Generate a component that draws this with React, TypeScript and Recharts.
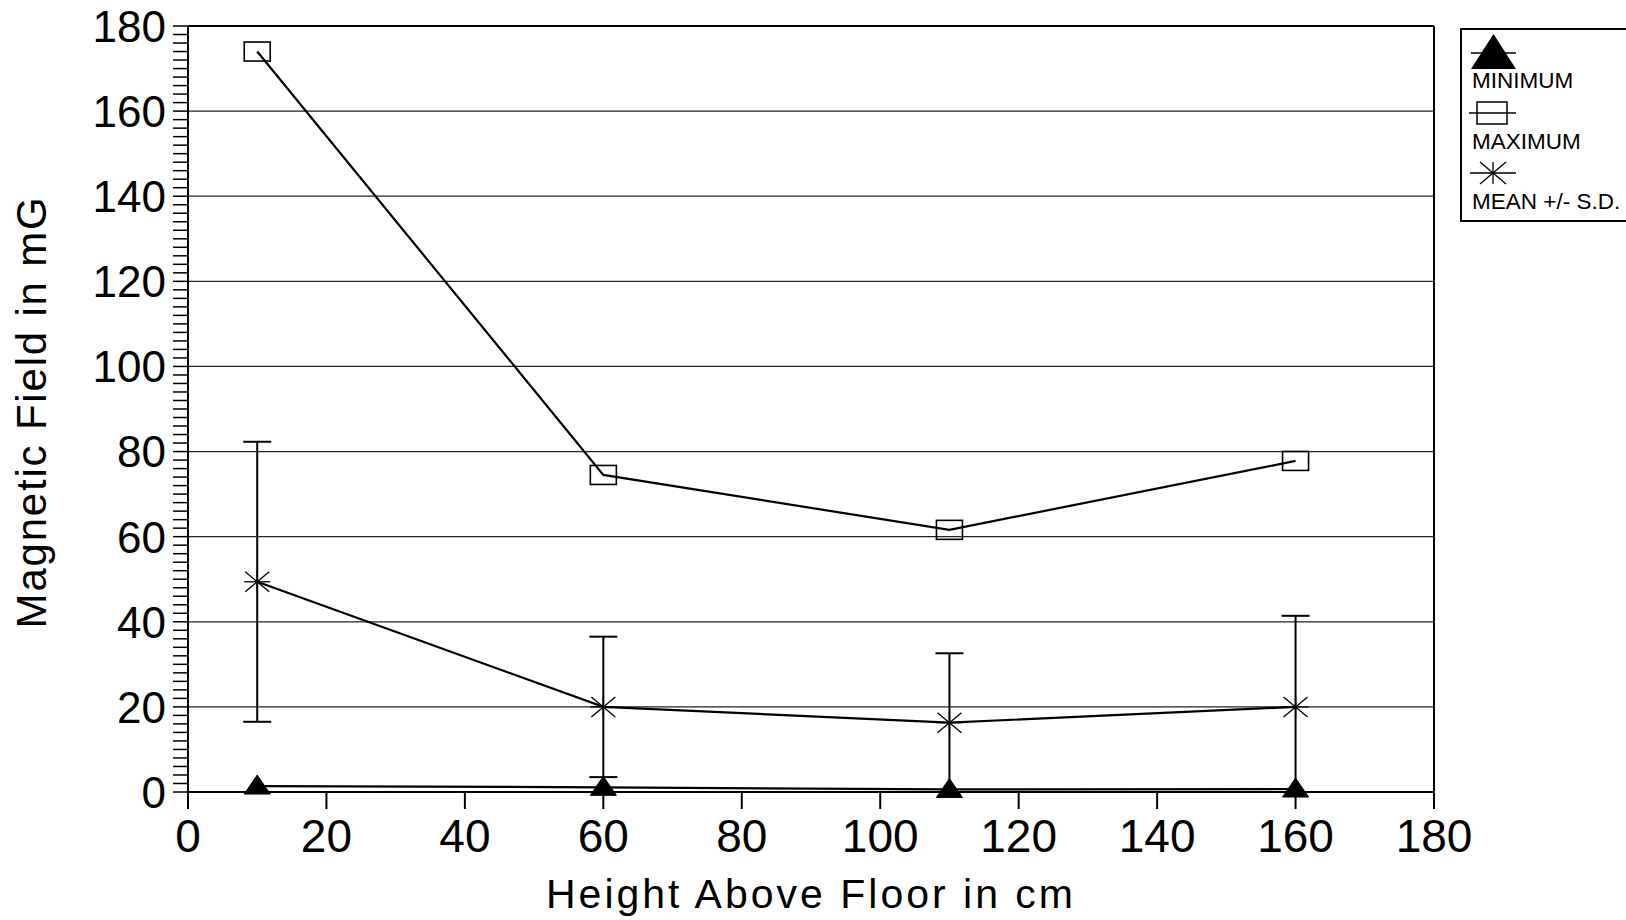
import React from 'react';
import { LineChart, Line, XAxis, YAxis, ReferenceLine, ErrorBar, Legend, Label } from 'recharts';

const heights = [10, 60, 110, 160];
const minimumValues = [1.4, 1.1, 0.6, 0.7];
const maximumValues = [174, 74.5, 61.6, 77.8];
const meanValues = [49.4, 20.0, 16.3, 20.0];
const sdLower = [32.9, 16.5, 16.3, 20.0];
const sdUpper = [32.9, 16.5, 16.3, 21.4];

const xTicks = [0, 20, 40, 60, 80, 100, 120, 140, 160, 180];
const yMajorTicks = [0, 20, 40, 60, 80, 100, 120, 140, 160, 180];
const gridValues = [20, 40, 60, 80, 100, 120, 140, 160];
const yMinorStep = 2;
const yMinorTicks = Array.from({ length: 91 }, (_, i) => i * yMinorStep);

const seriesNames = ['MINIMUM', 'MAXIMUM', 'MEAN +/- S.D.'];
const xTitle = 'Height Above Floor in cm';
const yTitle = 'Magnetic Field in mG';

const data = heights.map((h, i) => ({
  height: h,
  minimum: minimumValues[i],
  maximum: maximumValues[i],
  mean: meanValues[i],
  sd: [sdLower[i], sdUpper[i]],
}));

const FONT = '"Liberation Sans", Arial, Helvetica, sans-serif';

const SquareDot = (props: any) => {
  const { cx, cy } = props;
  if (cx == null || cy == null) return <g />;
  return <rect x={cx - 13} y={cy - 9.5} width={26} height={19} fill="none" stroke="#000" strokeWidth={1.6} />;
};

const StarDot = (props: any) => {
  const { cx, cy } = props;
  if (cx == null || cy == null) return <g />;
  return (
    <g stroke="#000" strokeWidth={1.3}>
      <line x1={cx - 13} y1={cy} x2={cx + 13} y2={cy} />
      <line x1={cx} y1={cy - 11} x2={cx} y2={cy + 11} />
      <line x1={cx - 12} y1={cy - 10} x2={cx + 12} y2={cy + 10} />
      <line x1={cx - 12} y1={cy + 10} x2={cx + 12} y2={cy - 10} />
    </g>
  );
};

const TriangleDot = (props: any) => {
  const { cx, cy } = props;
  if (cx == null || cy == null) return <g />;
  return <polygon points={`${cx},${cy - 11} ${cx - 13},${cy + 8} ${cx + 13},${cy + 8}`} fill="#000" stroke="#000" strokeWidth={1} />;
};

const YTick = (props: any) => {
  const { x, y, payload } = props;
  if (payload.value % 20 !== 0) return <g />;
  return (
    <text x={x} y={y} dy="0.36em" textAnchor="end" fontSize={44} fontFamily={FONT} fill="#000">
      {payload.value}
    </text>
  );
};

const renderLegend = () => (
  <svg width={166} height={196} style={{ display: 'block' }}>
    <rect x={1} y={1} width={190} height={192} fill="#fff" stroke="#000" strokeWidth={2} />
    <line x1={11} y1={25} x2={56} y2={25} stroke="#000" strokeWidth={1.5} />
    <polygon points="33.5,6 11,41 56,41" fill="#000" />
    <text x={12} y={60} fontSize={22.5} fontFamily={FONT} fill="#000">{seriesNames[0]}</text>
    <line x1={9} y1={85} x2={56} y2={85} stroke="#000" strokeWidth={1.5} />
    <rect x={17} y={74} width={30} height={22} fill="none" stroke="#000" strokeWidth={1.5} />
    <text x={12} y={121} fontSize={22.5} fontFamily={FONT} fill="#000">{seriesNames[1]}</text>
    <g stroke="#000" strokeWidth={1.3}>
      <line x1={10} y1={145} x2={56} y2={145} />
      <line x1={33} y1={134} x2={33} y2={156} />
      <line x1={20} y1={134} x2={46} y2={156} />
      <line x1={20} y1={156} x2={46} y2={134} />
    </g>
    <text x={12} y={181} fontSize={22.5} fontFamily={FONT} fill="#000">{seriesNames[2]}</text>
  </svg>
);

export default function App() {
  return (
    <div style={{ position: 'absolute', left: 0, top: 0, width: 1626, height: 920, overflow: 'hidden', background: '#fff' }}>
      <LineChart width={1626} height={920} data={data} margin={{ top: 26, right: 192, bottom: 0, left: 0 }}>
        <XAxis
          dataKey="height"
          type="number"
          domain={[0, 180]}
          ticks={xTicks}
          interval={0}
          height={128}
          tickSize={17}
          tickMargin={10}
          axisLine={{ stroke: '#000', strokeWidth: 2 }}
          tickLine={{ stroke: '#000', strokeWidth: 2 }}
          tick={{ fontSize: 46, fill: '#000', fontFamily: FONT }}
        >
          <Label
            content={() => (
              <text x={811} y={908} textAnchor="middle" fontSize={41} letterSpacing={3} fontFamily={FONT} fill="#000">
                {xTitle}
              </text>
            )}
          />
        </XAxis>
        <YAxis
          type="number"
          domain={[0, 180]}
          ticks={yMinorTicks}
          interval={0}
          width={188}
          tickSize={15}
          tickMargin={7}
          axisLine={{ stroke: '#000', strokeWidth: 2 }}
          tickLine={{ stroke: '#000', strokeWidth: 1.5 }}
          tick={<YTick />}
        >
          <Label
            content={() => (
              <text x={46} y={412} transform="rotate(-90, 46, 412)" textAnchor="middle" fontSize={42} letterSpacing={1.8} fontFamily={FONT} fill="#000">
                {yTitle}
              </text>
            )}
          />
        </YAxis>
        {gridValues.map((v) => (
          <ReferenceLine key={v} y={v} stroke="#222" strokeWidth={1.2} />
        ))}
        <ReferenceLine y={180} stroke="#000" strokeWidth={2} />
        <ReferenceLine x={180} stroke="#000" strokeWidth={2} />
        <Legend
          layout="vertical"
          align="center"
          verticalAlign="middle"
          wrapperStyle={{ position: 'absolute', left: 1460, top: 28, width: 166, height: 196 }}
          content={renderLegend}
        />
        <Line dataKey="maximum" type="linear" stroke="#000" strokeWidth={2.2} dot={<SquareDot />} isAnimationActive={false} />
        <Line dataKey="mean" type="linear" stroke="#000" strokeWidth={2.2} dot={<StarDot />} isAnimationActive={false}>
          <ErrorBar dataKey="sd" direction="y" width={14} stroke="#000" strokeWidth={2} isAnimationActive={false} />
        </Line>
        <Line dataKey="minimum" type="linear" stroke="#000" strokeWidth={2.2} dot={<TriangleDot />} isAnimationActive={false} />
      </LineChart>
    </div>
  );
}
